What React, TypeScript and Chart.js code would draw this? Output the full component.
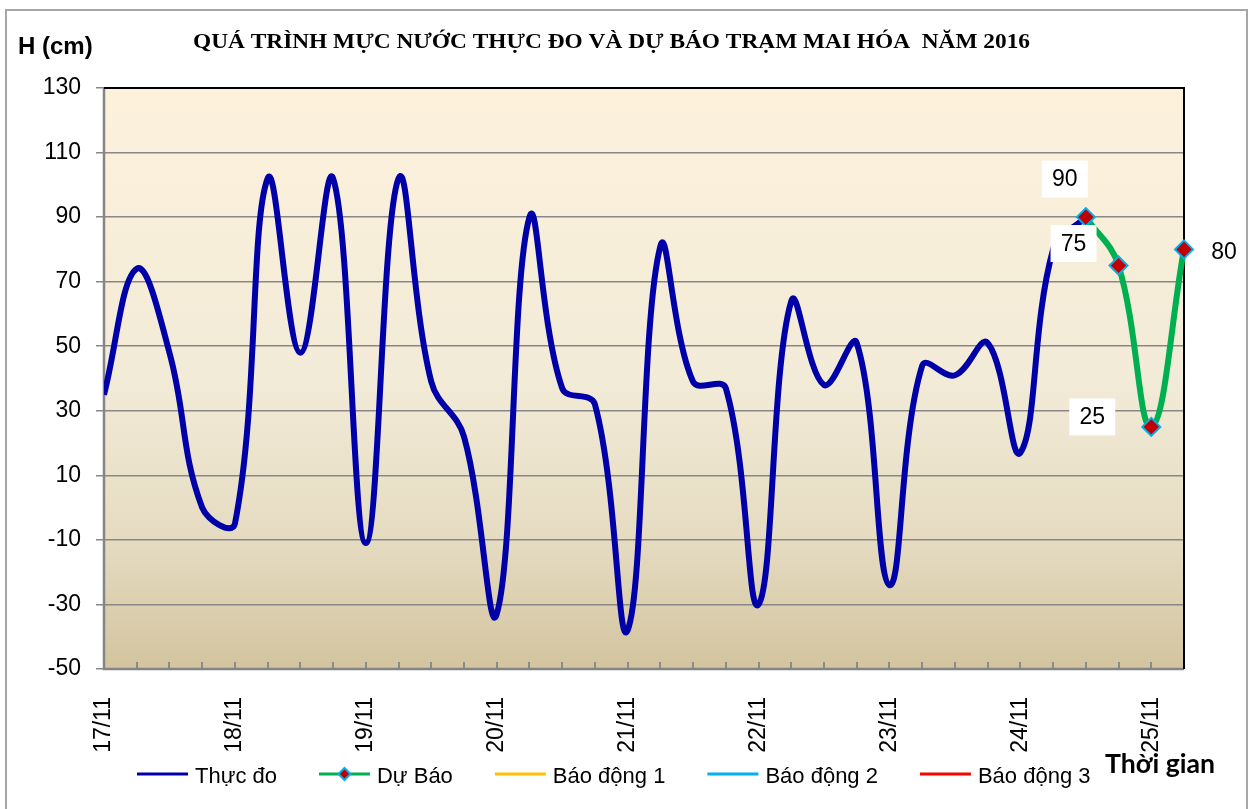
import React, { useEffect, useRef } from "react";
import { Chart, registerables } from "chart.js";

Chart.register(...registerables);

// ---- Data ----
const TITLE = "QUÁ TRÌNH MỰC NƯỚC THỰC ĐO VÀ DỰ BÁO TRẠM MAI HÓA  NĂM 2016";
const Y_TITLE = "H (cm)";
const X_TITLE = "Thời gian";
// x is in 6-hour steps from 17/11 00h
const DAY_LABELS = ["17/11", "18/11", "19/11", "20/11", "21/11", "22/11", "23/11", "24/11", "25/11"];
const STEPS_PER_DAY = 4;
const X_MAX = 33;
const ACTUAL = [35, 74, 48, 0, -5, 102, 48, 102, -11, 102, 39, 22, -33, 90, 37, 32, -38, 81, 39, 37, -30, 64, 38, 51, -24, 44, 41, 51, 17, 80, 90];
const FORECAST_START = 30;
const FORECAST = [90, 75, 25, 80];
const SERIES_NAMES = ["Thực đo", "Dự Báo", "Báo động 1", "Báo động 2", "Báo động 3"];
const Y_MIN = -50;
const Y_MAX = 130;
const Y_STEP = 20;

const FONT = "'Liberation Sans', Arial, sans-serif";

const LABEL_OFFSETS = [
  { dx: -21, dy: -38, box: true },
  { dx: -45, dy: -22, box: true },
  { dx: -59, dy: -10, box: true },
  { dx: 40, dy: 2, box: false },
];

const decorPlugin = {
  id: "decor",
  beforeDraw(chart: any) {
    const { ctx, chartArea: a } = chart;
    ctx.save();
    ctx.fillStyle = "#ffffff";
    ctx.fillRect(0, 0, chart.width, chart.height);
    const g = ctx.createLinearGradient(0, a.top, 0, a.bottom);
    g.addColorStop(0, "#FDF1DC");
    g.addColorStop(0.5, "#F2EBD7");
    g.addColorStop(0.78, "#E5DBC1");
    g.addColorStop(1, "#D3C49F");
    ctx.fillStyle = g;
    ctx.fillRect(a.left, a.top, a.right - a.left, a.bottom - a.top);
    ctx.restore();
  },
  beforeDatasetsDraw(chart: any) {
    const { ctx, chartArea: a } = chart;
    const xs = chart.scales.x;
    ctx.save();
    // inner minor ticks
    ctx.strokeStyle = "#8a8a8a";
    ctx.lineWidth = 2;
    for (let i = 1; i <= X_MAX; i++) {
      const px = Math.round(xs.getPixelForValue(i));
      ctx.beginPath();
      ctx.moveTo(px, a.bottom);
      ctx.lineTo(px, a.bottom - 7);
      ctx.stroke();
    }
    // borders
    ctx.strokeStyle = "#858585";
    ctx.lineWidth = 2.5;
    ctx.beginPath();
    ctx.moveTo(a.left, a.top);
    ctx.lineTo(a.left, a.bottom);
    ctx.lineTo(a.right, a.bottom);
    ctx.stroke();
    ctx.strokeStyle = "#000000";
    ctx.lineWidth = 2;
    ctx.beginPath();
    ctx.moveTo(a.left, a.top);
    ctx.lineTo(a.right, a.top);
    ctx.lineTo(a.right, a.bottom);
    ctx.stroke();
    ctx.restore();
  },
  afterDraw(chart: any) {
    const { ctx } = chart;
    ctx.save();
    // outer border
    ctx.strokeStyle = "#a6a6a6";
    ctx.lineWidth = 2;
    ctx.strokeRect(6, 10, 1241, 830);

    // title
    ctx.fillStyle = "#000";
    ctx.font = "bold 22px 'Liberation Serif', 'Times New Roman', serif";
    ctx.textBaseline = "alphabetic";
    ctx.textAlign = "left";
    const tw = ctx.measureText(TITLE).width;
    const targetW = 837;
    ctx.save();
    ctx.translate(193, 48);
    ctx.scale(targetW / tw, 1);
    ctx.fillText(TITLE, 0, 0);
    ctx.restore();

    // axis titles
    ctx.font = `bold 24px ${FONT}`;
    ctx.fillText(Y_TITLE, 18, 54);
    ctx.font = "bold 26px Lato, 'Open Sans', sans-serif";
    const xw = ctx.measureText(X_TITLE).width;
    ctx.save();
    ctx.translate(1105, 773);
    ctx.scale(110 / xw, 1);
    ctx.fillText(X_TITLE, 0, 0);
    ctx.restore();

    // data labels for forecast
    const meta = chart.getDatasetMeta(1);
    ctx.font = `23px ${FONT}`;
    ctx.textAlign = "center";
    ctx.textBaseline = "middle";
    meta.data.forEach((pt: any, i: number) => {
      const off = LABEL_OFFSETS[i];
      const cx = pt.x + off.dx;
      const cy = pt.y + off.dy;
      if (off.box) {
        ctx.fillStyle = "#ffffff";
        ctx.fillRect(cx - 23, cy - 18.5, 46, 37);
      }
      ctx.fillStyle = "#000";
      ctx.fillText(String(FORECAST[i]), cx, cy + 1);
    });

    // legend
    ctx.textAlign = "left";
    ctx.textBaseline = "alphabetic";
    ctx.font = `22px ${FONT}`;
    let x = 137;
    const ly = 774;
    chart.data.datasets.forEach((ds: any) => {
      ctx.strokeStyle = ds.borderColor;
      ctx.lineWidth = 3;
      ctx.beginPath();
      ctx.moveTo(x, ly);
      ctx.lineTo(x + 51, ly);
      ctx.stroke();
      if (ds.pointRadius && ds.pointRadius > 0) {
        const cx = x + 25.5;
        const r = 6;
        ctx.beginPath();
        ctx.moveTo(cx, ly - r);
        ctx.lineTo(cx + r, ly);
        ctx.lineTo(cx, ly + r);
        ctx.lineTo(cx - r, ly);
        ctx.closePath();
        ctx.fillStyle = ds.pointBackgroundColor;
        ctx.fill();
        ctx.strokeStyle = ds.pointBorderColor;
        ctx.lineWidth = 2;
        ctx.stroke();
      }
      ctx.fillStyle = "#000";
      const tx = x + 58;
      ctx.fillText(ds.label, tx, 783);
      x = tx + ctx.measureText(ds.label).width + 42;
    });
    ctx.restore();
  },
};

export default function App() {
  const ref = useRef<HTMLCanvasElement | null>(null);

  useEffect(() => {
    document.body.style.margin = "0";
    const canvas = ref.current;
    if (!canvas) return;
    const chart = new Chart(canvas, {
      type: "line",
      data: {
        datasets: [
          {
            label: SERIES_NAMES[0],
            data: ACTUAL.map((v, i) => ({ x: i, y: v })),
            borderColor: "#0000A8",
            backgroundColor: "#0000A8",
            borderWidth: 6,
            pointRadius: 0,
            tension: 0.4,
            order: 2,
          },
          {
            label: SERIES_NAMES[1],
            data: FORECAST.map((v, i) => ({ x: FORECAST_START + i, y: v })),
            borderColor: "#00B050",
            backgroundColor: "#00B050",
            borderWidth: 6,
            pointStyle: "rectRot",
            pointRadius: 9,
            pointBackgroundColor: "#C00000",
            pointBorderColor: "#00B0F0",
            pointBorderWidth: 2,
            tension: 0.4,
            clip: false,
            order: 1,
          },
          { label: SERIES_NAMES[2], data: [], borderColor: "#FFC000", backgroundColor: "#FFC000", pointRadius: 0, order: 3 },
          { label: SERIES_NAMES[3], data: [], borderColor: "#00B0F0", backgroundColor: "#00B0F0", pointRadius: 0, order: 4 },
          { label: SERIES_NAMES[4], data: [], borderColor: "#FF0000", backgroundColor: "#FF0000", pointRadius: 0, order: 5 },
        ] as any,
      },
      options: {
        responsive: false,
        animation: false,
        layout: { padding: { left: 44, top: 88, right: 67, bottom: 40 } },
        plugins: {
          legend: { display: false },
          title: { display: false },
          tooltip: { enabled: false },
        },
        scales: {
          x: {
            type: "linear",
            min: 0,
            max: X_MAX,
            afterFit: (s: any) => {
              s.height = 100;
            },
            afterBuildTicks: (s: any) => {
              s.ticks = DAY_LABELS.map((_, i) => ({ value: i * STEPS_PER_DAY }));
            },
            grid: { display: false, drawTicks: false },
            border: { display: false },
            ticks: {
              autoSkip: false,
              minRotation: 90,
              maxRotation: 90,
              padding: 28,
              color: "#000",
              font: { family: FONT, size: 23 },
              callback: (v: any) => DAY_LABELS[Math.round(Number(v) / STEPS_PER_DAY)] ?? "",
            },
          },
          y: {
            min: Y_MIN,
            max: Y_MAX,
            afterFit: (s: any) => {
              s.width = 60;
            },
            border: { display: false },
            grid: {
              color: (c: any) => (c.tick && c.tick.value === Y_MAX ? "#000000" : "#878787"),
              lineWidth: 1.5,
              tickLength: 8,
              tickColor: "#878787",
              drawTicks: true,
            },
            ticks: {
              stepSize: Y_STEP,
              padding: 15,
              color: "#000",
              font: { family: FONT, size: 23 },
            },
          },
        },
      },
      plugins: [decorPlugin],
    } as any);
    return () => chart.destroy();
  }, []);

  return (
    <div style={{ width: 1251, height: 809 }}>
      <canvas ref={ref} width={1251} height={809} style={{ display: "block" }} />
    </div>
  );
}
